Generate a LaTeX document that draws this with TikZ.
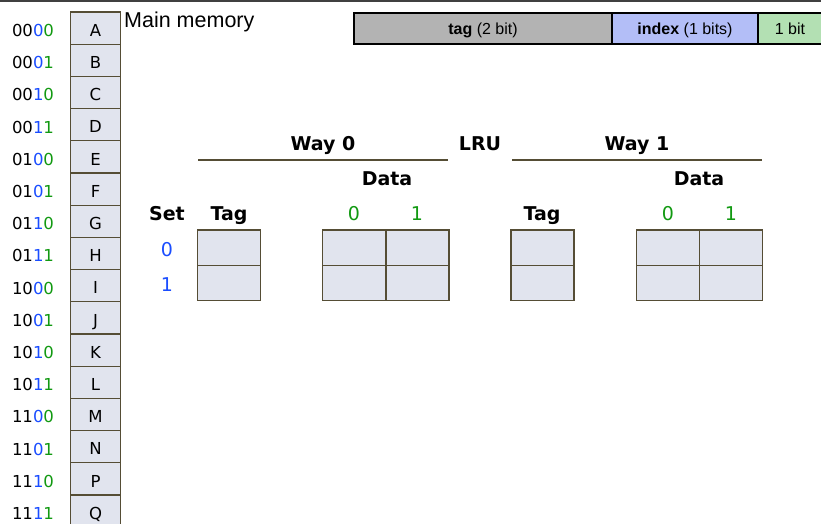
\documentclass[tikz,border=0pt]{standalone}
\usepackage{fontspec}
\setmainfont{DejaVu Sans}
\newfontfamily\arialf{Liberation Sans}
\definecolor{cellfill}{HTML}{E1E4EE}
\definecolor{cellline}{HTML}{554D35}
\definecolor{addrblue}{HTML}{1A4DFF}
\definecolor{addrgreen}{HTML}{119911}
\definecolor{tagfill}{HTML}{B3B3B3}
\definecolor{idxfill}{HTML}{B3BEF7}
\definecolor{offfill}{HTML}{B3E0B3}
\tikzset{
  memcell/.style={draw=cellline, fill=cellfill, line width=1.3pt, minimum width=50.4pt, minimum height=32.2pt, inner sep=0pt, font=\fontsize{16.5}{19}\selectfont},
  addr/.style={anchor=base, inner sep=0pt, font=\fontsize{16.5}{19}\selectfont},
  cachecell/.style={draw=cellline, fill=cellfill, line width=1.3pt, minimum width=63pt, minimum height=35.3pt, inner sep=0pt},
  hdr/.style={anchor=base, inner sep=0pt, font=\fontsize{19}{22}\bfseries\selectfont},
  num/.style={anchor=base, inner sep=0pt, font=\fontsize{19}{22}\selectfont},
  barbox/.style={draw=black, line width=2pt, inner sep=0pt, minimum height=31pt, font=\arialf\fontsize{16}{19}\selectfont},
  wayline/.style={draw=cellline, line width=1.3pt}
}
\begin{document}
\begin{tikzpicture}[x=1pt,y=-1pt]
\useasboundingbox (0,0) rectangle (821,524);
\clip (0,0) rectangle (821,524);
% top rule
\draw[line width=2pt, draw=black!75] (0,1) -- (821,1);
% main memory
\foreach \l/\a/\b/\c [count=\i from 0] in {A/00/0/0,B/00/0/1,C/00/1/0,D/00/1/1,E/01/0/0,F/01/0/1,G/01/1/0,H/01/1/1,I/10/0/0,J/10/0/1,K/10/1/0,L/10/1/1,M/11/0/0,N/11/0/1,P/11/1/0,Q/11/1/1}{
  \node[memcell] (m\i) at (95.5,{28.1+32.2*\i}) {};
  \node[addr] (ml\i) at (95.5,{36.3+32.2*\i}) {\l};
  \node[addr] (a\i) at (33,{36.5+32.2*\i}) {\a\textcolor{addrblue}{\b}\textcolor{addrgreen}{\c}};
}
\node[anchor=base west, inner sep=0pt, font=\arialf\fontsize{21.5}{24}\selectfont] (mm) at (124,27.3) {Main memory};
% address bar
\node[barbox, fill=tagfill, minimum width=258pt] (btag) at (483,28.5) {};
\node[barbox, fill=idxfill, minimum width=146pt] (bidx) at (685,28.5) {};
\node[barbox, fill=offfill, minimum width=80pt] (boff) at (798,28.5) {};
\node[anchor=base, inner sep=0pt, font=\arialf\fontsize{16}{19}\selectfont] (ttag) at (483,34.3) {\textbf{tag} (2 bit)};
\node[anchor=base, inner sep=0pt, font=\arialf\fontsize{16}{19}\selectfont] (tidx) at (685,34.3) {\textbf{index} (1 bits)};
\node[anchor=base, inner sep=0pt, font=\arialf\fontsize{16}{19}\selectfont] (toff) at (790,34.3) {1 bit};
% headings
\node[hdr] (w0) at (323,150.7) {Way 0};
\node[hdr] (lru) at (480,150.7) {LRU};
\node[hdr] (w1) at (637,150.7) {Way 1};
\coordinate (w0l) at (198,160);
\coordinate (w0r) at (448,160);
\coordinate (w1l) at (512,160);
\coordinate (w1r) at (762,160);
\draw[wayline] (w0l) -- (w0r);
\draw[wayline] (w1l) -- (w1r);
\node[hdr] (d0) at (387,185) {Data};
\node[hdr] (d1) at (699,185) {Data};
\node[hdr] (set) at (167,220) {Set};
\node[hdr] (tg0) at (229,220) {Tag};
\node[hdr] (tg1) at (542,220) {Tag};
\node[num, text=addrgreen] (c00) at (354,220) {0};
\node[num, text=addrgreen] (c01) at (417,220) {1};
\node[num, text=addrgreen] (c10) at (668,220) {0};
\node[num, text=addrgreen] (c11) at (731,220) {1};
\node[num, text=addrblue] (s0) at (167,256.5) {0};
\node[num, text=addrblue] (s1) at (167,291.7) {1};
% cache cells
\foreach \r/\y in {0/247.65,1/283.0}{
  \node[cachecell] (t0\r) at (229.2,\y) {};
  \node[cachecell] (d00\r) at (354.3,\y) {};
  \node[cachecell] (d01\r) at (417.6,\y) {};
  \node[cachecell] (t1\r) at (542.5,\y) {};
  \node[cachecell] (d10\r) at (668,\y) {};
  \node[cachecell] (d11\r) at (730.7,\y) {};
}
\end{tikzpicture}
\end{document}
